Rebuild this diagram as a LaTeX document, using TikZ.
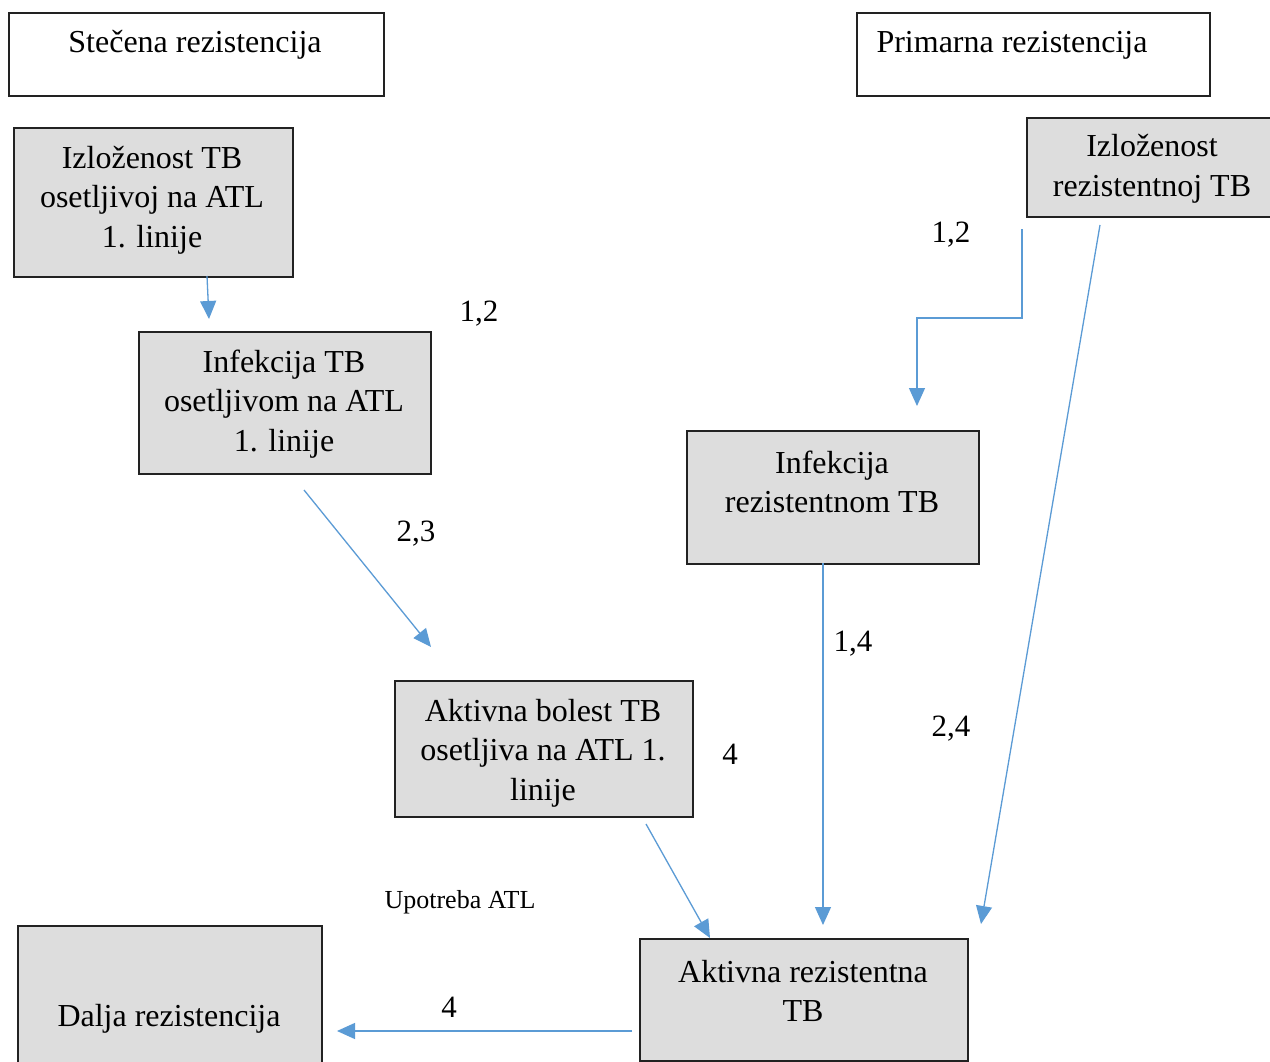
\documentclass[tikz,border=0pt]{standalone}
\usepackage{fontspec}
\setmainfont{Liberation Serif}
\usetikzlibrary{arrows.meta}
\definecolor{arrowblue}{HTML}{5B9BD5}
\definecolor{boxgray}{HTML}{DDDDDD}
\definecolor{edge}{HTML}{222222}
\begin{document}
\begin{tikzpicture}[x=1pt,y=-1pt,
  graybox/.style={draw=edge,line width=1.6pt,fill=boxgray,anchor=north west,inner sep=0pt},
  whitebox/.style={draw=edge,line width=1.6pt,fill=white,anchor=north west,inner sep=0pt},
  txt/.style={align=center,inner sep=0pt,font=\fontsize{32}{39.5}\selectfont},
  lbl/.style={inner sep=0pt,font=\fontsize{31}{34}\selectfont},
  small/.style={inner sep=0pt,font=\fontsize{26}{30}\selectfont},
  conn/.style={draw=arrowblue,line width=1.3pt,-{Triangle[length=18pt,width=16pt]}}]
\clip (0,0) rectangle (1270,1062);
\fill[white] (0,0) rectangle (1270,1062);
% header boxes
\node[whitebox,minimum width=375pt,minimum height=83pt] (hA) at (8,12) {};
\node[txt] (hAt) at (195,45) {Stečena rezistencija};
\node[whitebox,minimum width=353pt,minimum height=83pt] (hB) at (856,12) {};
\node[txt] (hBt) at (1012,45) {Primarna rezistencija};
% gray boxes
\node[graybox,minimum width=279pt,minimum height=149pt] (c) at (13,127) {};
\node[txt] (ct) at (152,200) {Izloženost TB\\osetljivoj na ATL\\1. linije};
\node[graybox,minimum width=292pt,minimum height=142pt] (d) at (138,331) {};
\node[txt] (dt) at (284,404) {Infekcija TB\\osetljivom na ATL\\1. linije};
\node[graybox,minimum width=250pt,minimum height=99pt] (e) at (1026,117) {};
\node[txt] (et) at (1152,169) {Izloženost\\rezistentnoj TB};
\node[graybox,minimum width=292pt,minimum height=133pt] (f) at (686,430) {};
\node[txt] (ft) at (832,482) {Infekcija\\rezistentnom TB};
\node[graybox,minimum width=298pt,minimum height=136pt] (g) at (394,680) {};
\node[txt] (gt) at (543,753) {Aktivna bolest TB\\osetljiva na ATL 1.\\linije};
\node[graybox,minimum width=328pt,minimum height=122pt] (h) at (639,938) {};
\node[txt] (ht) at (803,991) {Aktivna rezistentna\\TB};
\node[graybox,minimum width=304pt,minimum height=150pt] (i) at (17,925) {};
\node[txt] (it) at (169,1019) {Dalja rezistencija};
% connector end points
\coordinate (c1) at (207,276);
\coordinate (c2) at (209,319);
\coordinate (d1) at (304,490);
\coordinate (d2) at (431,647);
\coordinate (e1) at (1022,229);
\coordinate (e2) at (917,406);
\coordinate (e3) at (1100,225);
\coordinate (e4) at (981,924);
\coordinate (f1) at (823,563);
\coordinate (f2) at (823,925);
\coordinate (g1) at (646,824);
\coordinate (g2) at (710,938);
\coordinate (h1) at (632,1031);
\coordinate (h2) at (337,1031);
% connectors
\draw[conn] (c1) -- (c2);
\draw[conn] (d1) -- (d2);
\draw[conn] (e1) -- (e1 |- 0,318) -- (e2 |- 0,318) -- (e2);
\draw[conn] (e3) -- (e4);
\draw[conn] (f1) -- (f2);
\draw[conn] (g1) -- (g2);
\draw[conn] (h1) -- (h2);
% labels
\node[lbl] (l1) at (479,314) {1,2};
\node[lbl] (l2) at (951,235) {1,2};
\node[lbl] (l3) at (416,534) {2,3};
\node[lbl] (l4) at (853,644) {1,4};
\node[lbl] (l5) at (951,729) {2,4};
\node[lbl] (l6) at (730,754) {4};
\node[small] (l7) at (460,902) {Upotreba ATL};
\node[lbl] (l8) at (449,1007) {4};
\end{tikzpicture}
\end{document}
